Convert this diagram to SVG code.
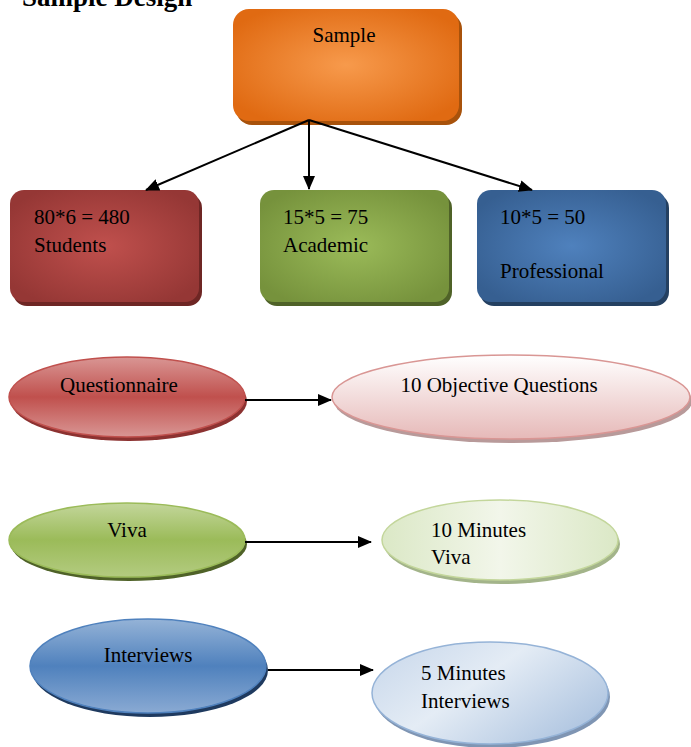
<svg xmlns="http://www.w3.org/2000/svg" width="691" height="747" viewBox="0 0 691 747">
<defs>
<radialGradient id="gO" cx="50%" cy="50%" r="60%"><stop offset="0" stop-color="#f79a4c"/><stop offset="1" stop-color="#e06a12"/></radialGradient>
<radialGradient id="gR" cx="50%" cy="50%" r="60%"><stop offset="0" stop-color="#c0504d"/><stop offset="1" stop-color="#953735"/></radialGradient>
<radialGradient id="gG" cx="50%" cy="50%" r="60%"><stop offset="0" stop-color="#9bbb59"/><stop offset="1" stop-color="#76923c"/></radialGradient>
<radialGradient id="gB" cx="50%" cy="50%" r="60%"><stop offset="0" stop-color="#4f81bd"/><stop offset="1" stop-color="#365f91"/></radialGradient>
<linearGradient id="eR" x1="0" y1="0" x2="0" y2="1"><stop offset="0" stop-color="#d99694"/><stop offset="0.5" stop-color="#c0504d"/><stop offset="1" stop-color="#d99694"/></linearGradient>
<linearGradient id="eG" x1="0" y1="0" x2="0" y2="1"><stop offset="0" stop-color="#c3d69b"/><stop offset="0.5" stop-color="#9bbb59"/><stop offset="1" stop-color="#b3cb80"/></linearGradient>
<linearGradient id="eB" x1="0" y1="0" x2="0" y2="1"><stop offset="0" stop-color="#95b3d7"/><stop offset="0.5" stop-color="#4f81bd"/><stop offset="1" stop-color="#8aaad3"/></linearGradient>
<linearGradient id="lR" x1="0" y1="0" x2="0" y2="1"><stop offset="0" stop-color="#ffffff"/><stop offset="1" stop-color="#e6b9b8"/></linearGradient>
<linearGradient id="lG" x1="0" y1="0" x2="1" y2="0"><stop offset="0" stop-color="#dbe8c6"/><stop offset="0.5" stop-color="#f2f6ea"/><stop offset="1" stop-color="#dbe8c6"/></linearGradient>
<linearGradient id="lB" x1="0" y1="0" x2="1" y2="0.6"><stop offset="0" stop-color="#c6d6ea"/><stop offset="0.5" stop-color="#e4ecf5"/><stop offset="1" stop-color="#b3c8e2"/></linearGradient>
<marker id="ah" markerWidth="14" markerHeight="12" refX="13" refY="6" orient="auto" markerUnits="userSpaceOnUse" viewBox="0 0 14 12"><path d="M0,0 L14,6 L0,12 z" fill="#000"/></marker>
</defs>
<style>
text{font-family:"Liberation Serif","Times New Roman",serif;font-size:21px;fill:#000}
.c{stroke:#000;stroke-width:2;fill:none;marker-end:url(#ah)}
</style>
<text x="22" y="6" style="font-size:27px;font-weight:bold">Sample Design</text>
<g id="sample">
<rect x="236" y="13" width="226" height="112" rx="16" fill="#a8520b"/>
<rect x="233" y="9" width="226" height="112" rx="16" fill="url(#gO)"/>
<text x="344" y="42" text-anchor="middle">Sample</text>
</g>
<g id="students">
<rect x="13" y="194" width="189" height="112" rx="14" fill="#6e2624"/>
<rect x="10" y="190" width="189" height="112" rx="14" fill="url(#gR)"/>
<text x="34" y="224">80*6 = 480</text>
<text x="34" y="252">Students</text>
</g>
<g id="academic">
<rect x="263" y="194" width="189" height="112" rx="14" fill="#4f6228"/>
<rect x="260" y="190" width="189" height="112" rx="14" fill="url(#gG)"/>
<text x="283" y="224">15*5 = 75</text>
<text x="283" y="252">Academic</text>
</g>
<g id="professional">
<rect x="480" y="194" width="189" height="112" rx="14" fill="#244061"/>
<rect x="477" y="190" width="189" height="112" rx="14" fill="url(#gB)"/>
<text x="500" y="224">10*5 = 50</text>
<text x="500" y="278">Professional</text>
</g>
<g id="questionnaire">
<ellipse cx="129" cy="401" rx="118" ry="40" fill="#8c3231"/>
<ellipse cx="127" cy="397" rx="118" ry="40" fill="url(#eR)" stroke="#c0504d" stroke-width="1.5"/>
<text x="119" y="392" text-anchor="middle">Questionnaire</text>
</g>
<g id="objective">
<ellipse cx="513" cy="401" rx="179" ry="42" fill="#b89a9a"/>
<ellipse cx="511" cy="397" rx="179" ry="42" fill="url(#lR)" stroke="#d99694" stroke-width="1.5"/>
<text x="499" y="392" text-anchor="middle">10 Objective Questions</text>
</g>
<g id="viva">
<ellipse cx="129" cy="544" rx="118" ry="37" fill="#4f6228"/>
<ellipse cx="127" cy="540" rx="118" ry="37" fill="url(#eG)" stroke="#9bbb59" stroke-width="1.5"/>
<text x="127" y="537" text-anchor="middle">Viva</text>
</g>
<g id="viva10">
<ellipse cx="502" cy="544" rx="118" ry="40" fill="#a3b48a"/>
<ellipse cx="500" cy="540" rx="118" ry="40" fill="url(#lG)" stroke="#c3d69b" stroke-width="1.5"/>
<text x="431" y="537">10 Minutes</text>
<text x="431" y="564">Viva</text>
</g>
<g id="interviews">
<ellipse cx="150" cy="670" rx="118" ry="47" fill="#1f3a5f"/>
<ellipse cx="148" cy="666" rx="118" ry="47" fill="url(#eB)" stroke="#4f81bd" stroke-width="1.5"/>
<text x="148" y="662" text-anchor="middle">Interviews</text>
</g>
<g id="interviews5">
<ellipse cx="492" cy="697" rx="118" ry="51" fill="#7f95b3"/>
<ellipse cx="490" cy="693" rx="118" ry="51" fill="url(#lB)" stroke="#95b3d7" stroke-width="1.5"/>
<text x="421" y="680">5 Minutes</text>
<text x="421" y="708">Interviews</text>
</g>
<g id="connectors">
<line class="c" x1="309" y1="120" x2="146" y2="190"/>
<line class="c" x1="309" y1="120" x2="309" y2="189"/>
<line class="c" x1="309" y1="120" x2="532" y2="190"/>
<line class="c" x1="245" y1="400" x2="331" y2="400"/>
<line class="c" x1="245" y1="542" x2="371" y2="542"/>
<line class="c" x1="268" y1="670" x2="373" y2="670"/>
</g>
</svg>
